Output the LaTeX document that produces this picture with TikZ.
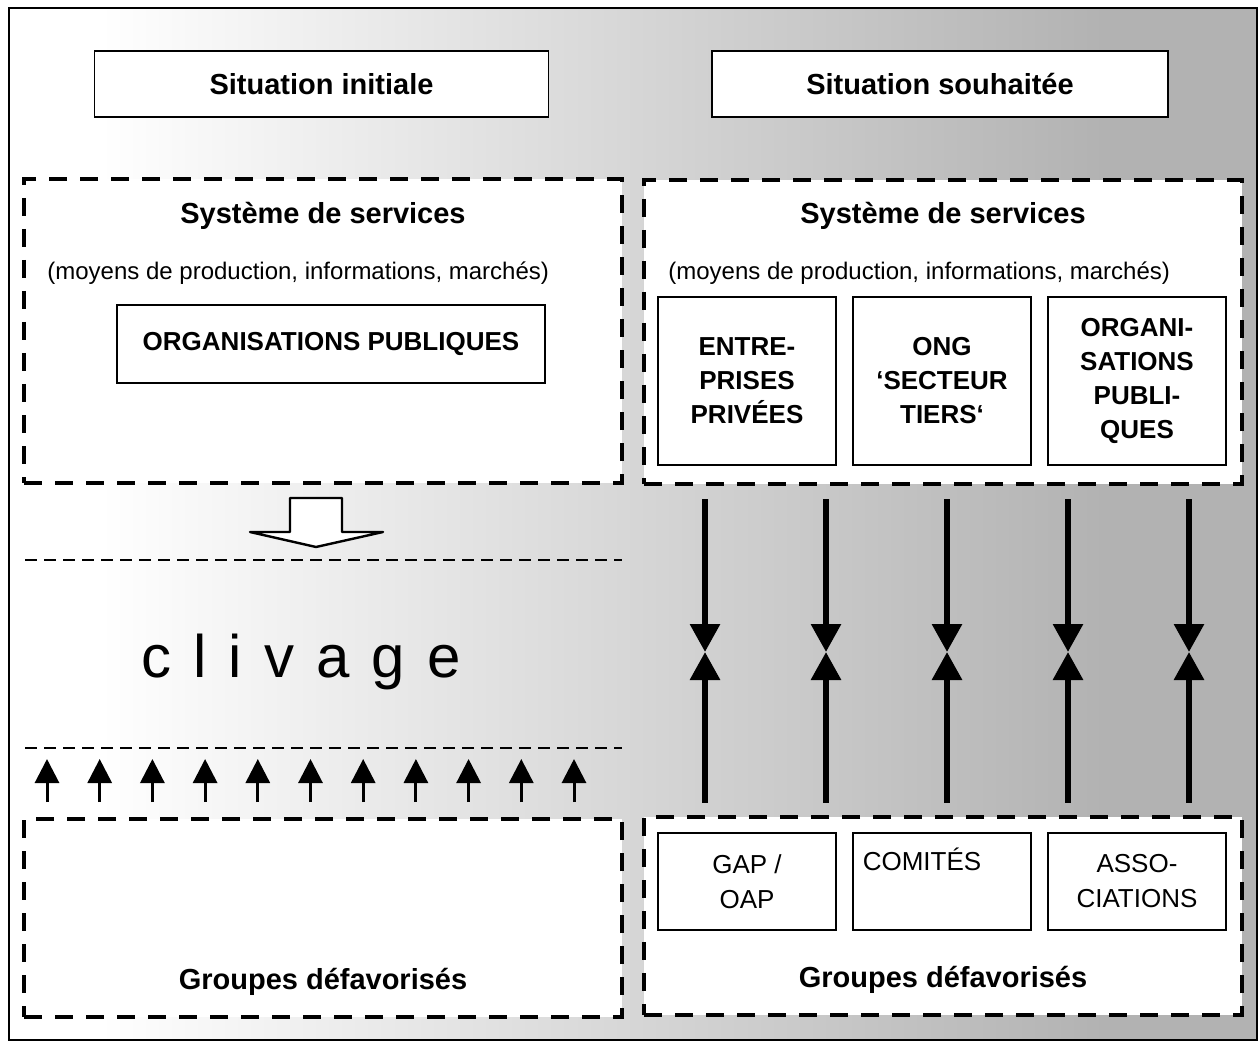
\documentclass[tikz,border=0pt]{standalone}
\usepackage{fontspec}
\setmainfont{Liberation Sans}
\usetikzlibrary{arrows.meta}

\begin{document}
\begin{tikzpicture}[
    x=0.5pt, y=-0.5pt,
    titlebox/.style={
        rectangle,
        draw,
        fill=white,
        line width=0.75pt,
        minimum width=227pt,
        minimum height=33pt,
        inner sep=0pt,
        font=\fontsize{14.5}{17}\selectfont\bfseries
    },
    zonebox/.style={
        rectangle,
        draw,
        fill=white,
        line width=2.25pt,
        dash pattern=on 9pt off 6.5pt,
        minimum width=299pt,
        inner sep=0pt
    },
    heading/.style={font=\fontsize{14.5}{17}\selectfont\bfseries},
    note/.style={anchor=west, inner sep=0pt, font=\fontsize{12}{14}\selectfont},
    orgbox/.style={
        rectangle,
        draw,
        fill=white,
        line width=0.75pt,
        minimum width=89pt,
        minimum height=84pt,
        inner sep=0pt,
        align=center,
        font=\fontsize{13}{17}\selectfont\bfseries
    },
    grpbox/.style={
        rectangle,
        draw,
        fill=white,
        line width=0.75pt,
        minimum width=89pt,
        minimum height=48.5pt,
        inner sep=0pt,
        align=center,
        font=\fontsize{13}{17.5}\selectfont
    },
    linkarr/.style={-{Triangle[length=14pt, width=14.5pt]}, line width=3pt},
    smallarr/.style={-{Triangle[length=12pt, width=12pt]}, line width=1.5pt},
    clivline/.style={line width=1.1pt, dash pattern=on 6pt off 3.5pt}
]
    \useasboundingbox (0,0) rectangle (1259,1043);

    % Background
    \fill[white] (9,8) rectangle (101,1040);
    \shade[left color=white, right color=gray!60] (100,8) rectangle (1100,1040);
    \fill[gray!60] (1099,8) rectangle (1257,1040);
    \draw[line width=1pt] (9,8) rectangle (1257,1040);

    % Titles
    \node[titlebox] (sitA) at (321.5,84) {Situation initiale};
    \node[titlebox, minimum width=228pt] (sitB) at (940,84) {Situation souhaitée};

    % Service systems
    \node[zonebox, minimum height=152pt] (servL) at (323,331) {};
    \node[zonebox, minimum height=152pt] (servR) at (943,332) {};
    \node[heading] (headL) at (323,216) {Système de services};
    \node[heading] (headR) at (943,216) {Système de services};
    \node[note] (noteL) at (47,273) {(moyens de production, informations, marchés)};
    \node[note] (noteR) at (668,273) {(moyens de production, informations, marchés)};

    \node[orgbox, minimum width=214pt, minimum height=39pt] (pubL) at (331,344) {ORGANISATIONS PUBLIQUES};
    \node[orgbox] (priv) at (747,381) {ENTRE-\\PRISES\\PRIVÉES};
    \node[orgbox] (ong) at (942,381) {ONG\\‘SECTEUR\\TIERS‘};
    \node[orgbox] (pubR) at (1137,381) {ORGANI-\\SATIONS\\PUBLI-\\QUES};

    % Disadvantaged groups
    \node[zonebox, minimum height=99pt] (grpL) at (323,918) {};
    \node[zonebox, minimum height=99pt] (grpR) at (943,916) {};
    \node[heading] (groupL) at (323,982) {Groupes défavorisés};
    \node[heading] (groupR) at (943,980) {Groupes défavorisés};

    \node[grpbox] (gap) at (747,881.5) {GAP /\\OAP};
    \node[grpbox] (comite) at (942,881.5) {COMITÉS\hspace*{20pt}\\\strut};
    \node[grpbox] (asso) at (1137,881.5) {ASSO-\\CIATIONS};

    % Cleavage
    \draw[clivline] (25,560) -- (622,560);
    \draw[clivline] (25,748) -- (622,748);
    \node[anchor=base, inner sep=0pt,
          font=\fontsize{30}{36}\selectfont\addfontfeature{LetterSpace=37}] (cliv) at (301,677) {clivage};

    % Hollow arrow
    \draw[line width=1.2pt, line join=round, fill=white] (290,498) -- (342,498) -- (342,532) -- (383,532)
        -- (316,547) -- (250,532) -- (290,532) -- cycle;

    % Small arrows
    \foreach \i in {0,...,10}
        \draw[smallarr] (47+52.7*\i,802) -- (47+52.7*\i,759);

    % Links
    \foreach \x [count=\i] in {705,826,947,1068,1189} {
        \coordinate (m\i) at (\x,652);
        \draw[linkarr] ([yshift=-6.5pt]servR.south -| m\i) -- (m\i);
        \draw[linkarr] ([yshift=6pt]grpR.north -| m\i) -- (m\i);
    }
\end{tikzpicture}
\end{document}
